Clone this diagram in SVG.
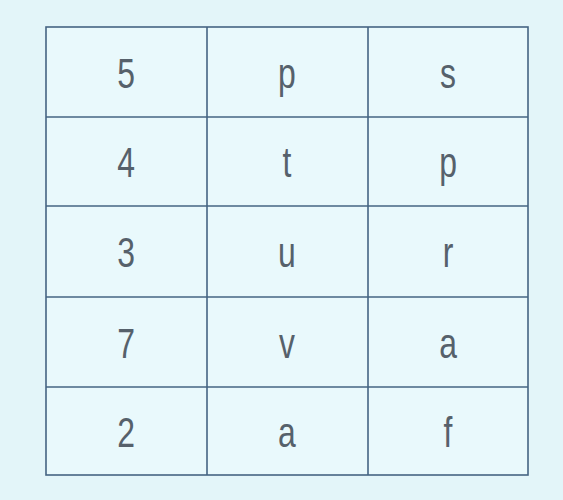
<svg xmlns="http://www.w3.org/2000/svg" width="563" height="500" viewBox="0 0 563 500">
<style>
.bg{fill:#e3f5f9}
.cell{fill:#e9f9fc}
.grid{stroke:#456483;stroke-width:1.6;fill:none}
.t{font-family:"Liberation Sans",Arial,sans-serif;font-size:42px;fill:#56616b;text-anchor:middle}
</style>
<rect class="bg" x="0" y="0" width="563" height="500"/>
<g id="table">
<rect class="cell" x="46" y="27" width="482" height="448"/>
</g>
<g id="connectors">
<rect class="grid" x="46" y="27" width="482" height="448"/>
<line class="grid" x1="207" y1="27" x2="207" y2="475"/>
<line class="grid" x1="368" y1="27" x2="368" y2="475"/>
<line class="grid" x1="46" y1="117" x2="528" y2="117"/>
<line class="grid" x1="46" y1="206" x2="528" y2="206"/>
<line class="grid" x1="46" y1="297" x2="528" y2="297"/>
<line class="grid" x1="46" y1="387" x2="528" y2="387"/>
</g>
<g transform="scale(0.76,1)">
<g id="row1"><text class="t" x="166" y="88">5</text><text class="t" x="377.6" y="88">p</text><text class="t" x="589.5" y="88">s</text></g>
<g id="row2"><text class="t" x="166" y="177">4</text><text class="t" x="377.6" y="177">t</text><text class="t" x="589.5" y="177">p</text></g>
<g id="row3"><text class="t" x="166" y="267">3</text><text class="t" x="377.6" y="267">u</text><text class="t" x="589.5" y="267">r</text></g>
<g id="row4"><text class="t" x="166" y="358">7</text><text class="t" x="377.6" y="358">v</text><text class="t" x="589.5" y="358">a</text></g>
<g id="row5"><text class="t" x="166" y="447">2</text><text class="t" x="377.6" y="447">a</text><text class="t" x="589.5" y="447">f</text></g>
</g>
</svg>
